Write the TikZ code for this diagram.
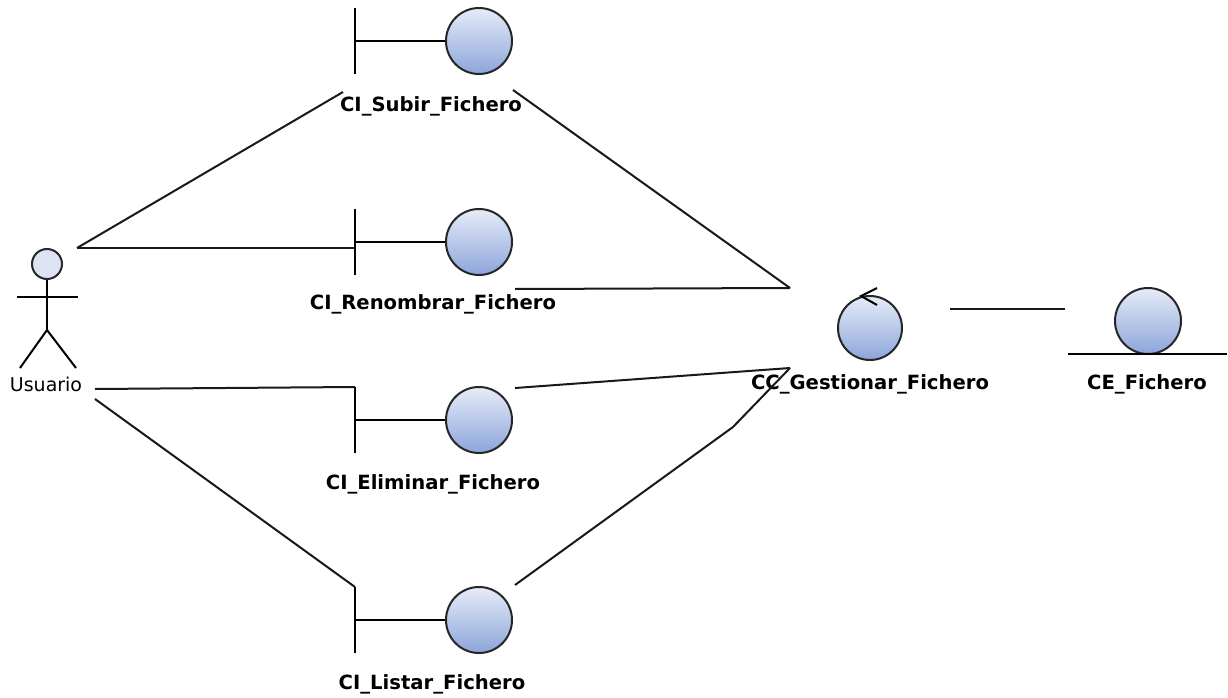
\documentclass[tikz,border=0pt]{standalone}
\usepackage{fontspec}
\setmainfont{DejaVu Sans}
\definecolor{objtop}{HTML}{E6ECF8}
\definecolor{objbot}{HTML}{8CA5DA}
\definecolor{headfill}{HTML}{DCE3F3}
\begin{document}
\begin{tikzpicture}[x=1pt,y=-1pt,line width=2pt,
  obj/.style={circle,draw=black!85,line width=2pt,minimum size=66pt,inner sep=0pt,
    top color=objtop,bottom color=objbot,shading angle=0},
  lbl/.style={font=\bfseries\fontsize{19.6}{22}\selectfont,inner sep=0pt,anchor=center},
  conn/.style={draw=black!90,line width=2pt}]
\useasboundingbox (0,0) rectangle (1228,698);
\fill[white] (0,0) rectangle (1228,698);

% actor
\node[circle,draw=black!85,line width=2pt,fill=headfill,minimum size=30pt,inner sep=0pt] (head) at (47,264) {};
\draw (head.south) -- (47,330) coordinate (hip);
\draw (17,297) -- (78,297);
\draw (hip) -- (20,368);
\draw (hip) -- (76,368);
\node[font=\fontsize{19}{21}\selectfont,inner sep=0pt] (usuario) at (46,384) {Usuario};
\coordinate (uA) at (77,248);
\coordinate (uB) at (95,389);
\coordinate (uC) at (95,399);

% boundary objects
\foreach \n/\y in {sub/41,ren/242,eli/420,lis/620}{
  \node[obj] (\n) at (479,\y) {};
  \draw (355,\y-33) coordinate (\n top) -- (355,\y+33) coordinate (\n bot);
  \draw (355,\y) -- (\n.west);
}
\node[lbl] (lsub) at (431,106) {CI\_Subir\_Fichero};
\node[lbl] (lren) at (433,304) {CI\_Renombrar\_Fichero};
\node[lbl] (leli) at (433,484) {CI\_Eliminar\_Fichero};
\node[lbl] (llis) at (432,684) {CI\_Listar\_Fichero};

% control object
\node[obj,minimum size=64pt] (ctl) at (870,328) {};
\draw (877,288) -- (861,296) -- (877,305);
\node[lbl] (lctl) at (870,384) {CC\_Gestionar\_Fichero};

% entity object
\node[obj] (ent) at (1148,321) {};
\draw (1068,354) -- (1227,354);
\node[lbl] (lent) at (1147,384) {CE\_Fichero};

% connection points
\coordinate (cSub) at (343,92);
\coordinate (cRen) at (355,248);
\coordinate (gA) at (790,288);
\coordinate (gB) at (790,368);
\coordinate (gBend) at (733,427);

% links
\draw[conn] (uA) -- (cSub);
\draw[conn] (uA) -- (cRen);
\draw[conn] (uB) -- (elitop);
\draw[conn] (uC) -- (listop);
\draw[conn] (513,90) -- (gA);
\draw[conn] (515,289) -- (gA);
\draw[conn] (515,388) -- (gB);
\draw[conn] (515,585) -- (gBend) -- (gB);
\draw[conn] (950,309) -- (1065,309);
\end{tikzpicture}
\end{document}
